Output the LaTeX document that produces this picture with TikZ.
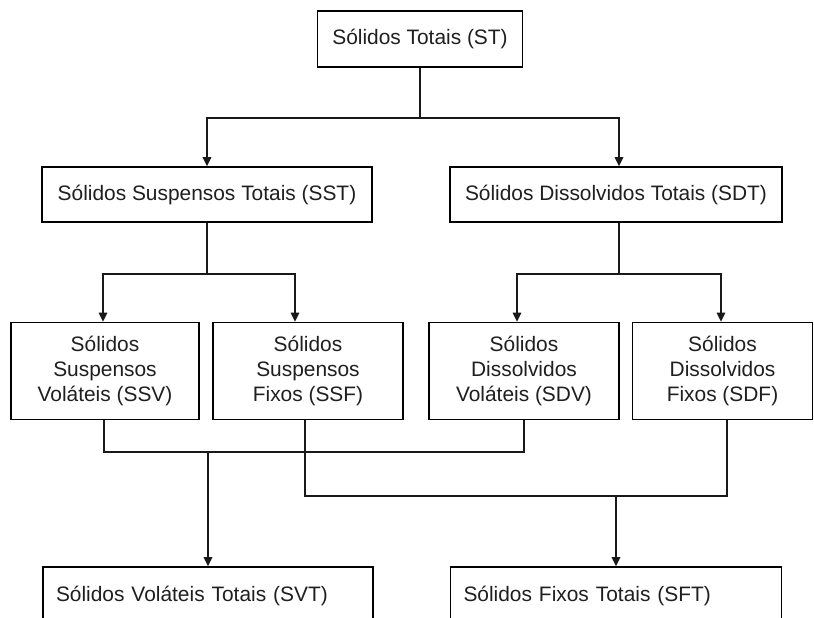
\documentclass[tikz,border=0pt]{standalone}
\usepackage{fontspec}
\setmainfont{Liberation Sans}
\usetikzlibrary{arrows.meta}
\begin{document}
\begin{tikzpicture}[x=1pt,y=-1pt,
  box/.style={draw=black,line width=1.6pt,fill=white,text=black!88,
    font=\fontsize{20.9}{25}\selectfont,align=center,inner sep=0pt},
  wire/.style={draw=black!90,line width=1.6pt},
  arr/.style={wire,-{Triangle[width=8.5pt,length=9pt]}}]
\clip (0,0) rectangle (814,618);
\fill[white] (0,0) rectangle (814,618);

% level 0
\node[box,minimum width=205pt,minimum height=56pt] (ST) at (420,39) {Sólidos Totais (ST)};

% level 1
\node[box,minimum width=330pt,minimum height=55pt] (SST) at (207,194.5) {Sólidos Suspensos Totais (SST)};
\node[box,minimum width=332pt,minimum height=55pt] (SDT) at (616,194.5) {Sólidos Dissolvidos Totais (SDT)};

% level 2
\node[box,minimum width=188pt,minimum height=97pt] (SSV) at (105,371) {Sólidos\\Suspensos\\Voláteis (SSV)};
\node[box,minimum width=190pt,minimum height=97pt] (SSF) at (308,371) {Sólidos\\Suspensos\\Fixos (SSF)};
\node[box,minimum width=190pt,minimum height=97pt] (SDV) at (524,371) {Sólidos\\Dissolvidos\\Voláteis (SDV)};
\node[box,minimum width=180pt,minimum height=97pt] (SDF) at (722.5,371) {Sólidos\\Dissolvidos\\Fixos (SDF)};

% level 3 (boxes run past the lower edge)
\node[box,minimum width=330pt,minimum height=58pt,text width=304pt,align=left,inner xsep=13pt] (SVT) at (208,596) {Sólidos Voláteis Totais (SVT)};
\node[box,minimum width=331pt,minimum height=58pt,text width=305pt,align=left,inner xsep=13pt] (SFT) at (616,596) {Sólidos Fixos Totais (SFT)};

% ST splits into suspended and dissolved
\coordinate (j0) at (ST.south |- 0,118);
\draw[wire] (ST.south) -- (j0);
\draw[arr] (j0) -| (SST.north);
\draw[arr] (j0) -| ([xshift=3pt]SDT.north);

% SST splits into volatile and fixed suspended
\coordinate (j1) at (SST.south |- 0,274);
\draw[wire] (SST.south) -- (j1);
\draw[arr] (j1) -| ([xshift=-2pt]SSV.north);
\draw[arr] (j1) -| ([xshift=-13pt]SSF.north);

% SDT splits into volatile and fixed dissolved
\coordinate (j2) at ([xshift=3pt]SDT.south |- 0,274);
\draw[wire] ([xshift=3pt]SDT.south) -- (j2);
\draw[arr] (j2) -| ([xshift=-7pt]SDV.north);
\draw[arr] (j2) -| ([xshift=-1.5pt]SDF.north);

% volatile fractions join into SVT
\coordinate (jv) at (SVT.north |- 0,452);
\draw[wire] ([xshift=-1pt]SSV.south) |- (jv) -| (SDV.south);
\draw[arr] (jv) -- (SVT.north);

% fixed fractions join into SFT
\coordinate (jf) at (SFT.north |- 0,496);
\draw[wire] ([xshift=-3pt]SSF.south) |- (jf) -| ([xshift=4.5pt]SDF.south);
\draw[arr] (jf) -- (SFT.north);
\end{tikzpicture}
\end{document}
